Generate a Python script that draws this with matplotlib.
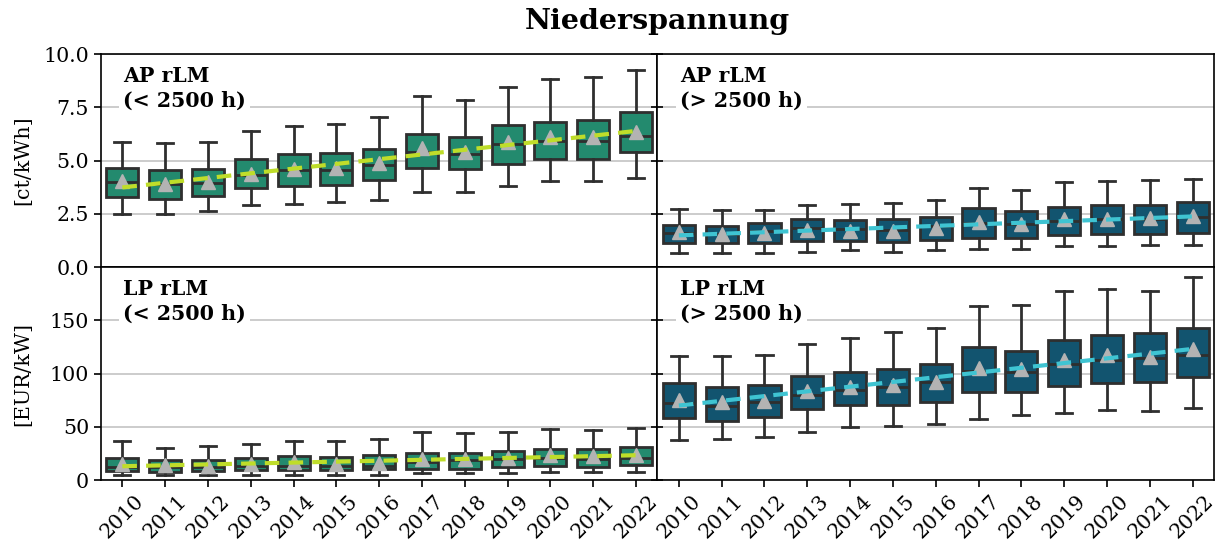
import numpy as np
import matplotlib
matplotlib.use("Agg")
import matplotlib.pyplot as plt

years = ["2010", "2011", "2012", "2013", "2014", "2015", "2016",
         "2017", "2018", "2019", "2020", "2021", "2022"]

# AP rLM (< 2500 h) [ct/kWh]
ap_lo_whislo = [2.47, 2.47, 2.61, 2.90, 2.98, 3.06, 3.17, 3.52, 3.54, 3.82, 4.02, 4.02, 4.19]
ap_lo_q1     = [3.28, 3.20, 3.32, 3.70, 3.79, 3.87, 4.11, 4.67, 4.60, 4.84, 5.08, 5.08, 5.40]
ap_lo_med    = [3.98, 3.90, 3.94, 4.33, 4.57, 4.57, 4.80, 5.42, 5.30, 5.78, 5.92, 5.93, 6.16]
ap_lo_q3     = [4.63, 4.55, 4.61, 5.09, 5.29, 5.34, 5.53, 6.24, 6.12, 6.66, 6.79, 6.89, 7.28]
ap_lo_whishi = [5.88, 5.84, 5.88, 6.38, 6.63, 6.74, 7.05, 8.01, 7.83, 8.45, 8.82, 8.91, 9.25]
ap_lo_mean   = [4.02, 3.91, 4.00, 4.38, 4.61, 4.64, 4.88, 5.57, 5.42, 5.89, 6.12, 6.09, 6.32]

# AP rLM (> 2500 h) [ct/kWh]
ap_hi_whislo = [0.68, 0.67, 0.68, 0.73, 0.81, 0.73, 0.79, 0.84, 0.87, 0.99, 0.99, 1.04, 1.04]
ap_hi_q1     = [1.15, 1.12, 1.13, 1.21, 1.21, 1.20, 1.27, 1.38, 1.38, 1.51, 1.57, 1.57, 1.61]
ap_hi_med    = [1.61, 1.54, 1.68, 1.85, 1.77, 1.74, 1.93, 2.08, 2.00, 2.16, 2.24, 2.24, 2.33]
ap_hi_q3     = [1.96, 1.94, 2.07, 2.28, 2.20, 2.25, 2.36, 2.75, 2.62, 2.81, 2.92, 2.92, 3.04]
ap_hi_whishi = [2.73, 2.69, 2.69, 2.90, 2.97, 3.01, 3.17, 3.71, 3.60, 3.98, 4.02, 4.07, 4.13]
ap_hi_mean   = [1.66, 1.54, 1.61, 1.74, 1.71, 1.69, 1.82, 2.11, 2.03, 2.24, 2.28, 2.31, 2.39]

# LP rLM (< 2500 h) [EUR/kW]
lp_lo_whislo = [4.7, 4.7, 4.7, 4.7, 4.7, 4.7, 4.7, 6.2, 6.2, 6.2, 7.8, 7.8, 7.8]
lp_lo_q1     = [8.4, 7.8, 8.1, 9.3, 9.0, 9.0, 10.2, 10.6, 10.6, 11.8, 12.7, 12.4, 14.0]
lp_lo_med    = [12.4, 11.8, 11.8, 13.0, 13.4, 13.4, 13.0, 17.1, 18.6, 19.6, 20.8, 20.2, 20.8]
lp_lo_q3     = [21.1, 18.6, 18.9, 21.1, 22.4, 22.0, 23.3, 25.8, 25.8, 27.6, 29.5, 29.5, 30.7]
lp_lo_whishi = [36.6, 30.4, 31.7, 34.2, 36.6, 36.6, 38.8, 45.3, 43.8, 45.3, 47.5, 46.6, 48.4]
lp_lo_mean   = [15.5, 14.0, 13.4, 14.9, 16.5, 15.5, 16.1, 20.2, 19.6, 20.8, 23.3, 22.4, 23.3]

# LP rLM (> 2500 h) [EUR/kW]
lp_hi_whislo = [37.9, 38.8, 40.1, 45.3, 49.7, 50.9, 52.2, 57.1, 60.9, 63.4, 65.5, 64.6, 68.0]
lp_hi_q1     = [58.1, 55.6, 59.0, 66.5, 70.5, 70.5, 73.0, 82.3, 82.3, 88.5, 91.0, 91.6, 96.9]
lp_hi_med    = [72.0, 69.9, 73.0, 79.8, 84.8, 87.3, 91.6, 102.5, 101.6, 108.7, 112.4, 114.9, 117.4]
lp_hi_q3     = [91.0, 87.6, 89.1, 97.5, 101.9, 104.7, 109.3, 125.2, 121.1, 131.4, 136.0, 138.2, 143.2]
lp_hi_whishi = [116.5, 116.5, 117.7, 127.3, 133.5, 139.4, 143.2, 163.7, 164.6, 177.3, 179.5, 177.3, 190.4]
lp_hi_mean   = [75.5, 73.6, 74.5, 83.9, 87.0, 89.1, 92.2, 105.6, 104.7, 112.7, 117.1, 115.8, 123.3]

title = "Niederspannung"
ylabels = ["[ct/kWh]", "[EUR/kW]"]
panel_labels = [["AP rLM\n(< 2500 h)", "AP rLM\n(> 2500 h)"],
                ["LP rLM\n(< 2500 h)", "LP rLM\n(> 2500 h)"]]

plt.rcParams["font.family"] = ["DejaVu Serif"]

GREEN = "#238a6e"
BLUE = "#12546f"
TREND_L = "#bfdd2a"
TREND_R = "#3fc4d2"
EDGE = "#2f2f2f"
FS = 14.8

LEFT, RIGHT, TOP, BOTTOM = 0.0824, 0.991, 0.902, 0.1304

fig = plt.figure(figsize=(12.25, 5.52), dpi=100)
gs = fig.add_gridspec(2, 2, left=LEFT, right=RIGHT, top=TOP, bottom=BOTTOM,
                      wspace=0, hspace=0)
axes = [[fig.add_subplot(gs[r, c]) for c in range(2)] for r in range(2)]

datasets = [
    [(ap_lo_whislo, ap_lo_q1, ap_lo_med, ap_lo_q3, ap_lo_whishi, ap_lo_mean),
     (ap_hi_whislo, ap_hi_q1, ap_hi_med, ap_hi_q3, ap_hi_whishi, ap_hi_mean)],
    [(lp_lo_whislo, lp_lo_q1, lp_lo_med, lp_lo_q3, lp_lo_whishi, lp_lo_mean),
     (lp_hi_whislo, lp_hi_q1, lp_hi_med, lp_hi_q3, lp_hi_whishi, lp_hi_mean)],
]

ylims = [(0, 10), (0, 200)]
yticks = [[0.0, 2.5, 5.0, 7.5, 10.0], [0, 50, 100, 150]]
yfmt = ["{:.1f}", "{:.0f}"]

for r in range(2):
    for c in range(2):
        ax = axes[r][c]
        wl, q1, med, q3, wh, mn = datasets[r][c]
        stats = []
        for i in range(len(years)):
            stats.append(dict(whislo=wl[i], q1=q1[i], med=med[i], q3=q3[i],
                              whishi=wh[i], mean=mn[i], fliers=[], label=years[i]))
        color = GREEN if c == 0 else BLUE
        pos = np.arange(len(years))
        ax.bxp(stats, positions=pos, widths=0.75, patch_artist=True,
               showmeans=True, showfliers=False,
               boxprops=dict(facecolor=color, edgecolor=EDGE, linewidth=2),
               medianprops=dict(color=EDGE, linewidth=2),
               whiskerprops=dict(color=EDGE, linewidth=2),
               capprops=dict(color=EDGE, linewidth=2),
               meanprops=dict(marker="^", markerfacecolor="#b3b3b3",
                              markeredgecolor="#b3b3b3", markersize=10),
               zorder=3)
        coef = np.polyfit(pos, np.array(mn), 1)
        ax.plot(pos, np.polyval(coef, pos), linestyle=(0, (3.5, 2.2)),
                color=TREND_L if c == 0 else TREND_R, linewidth=3, zorder=4)
        ax.set_xlim(-0.5, len(years) - 0.5)
        ax.set_ylim(*ylims[r])
        ax.set_yticks(yticks[r])
        ax.yaxis.grid(True, color="#c4c4c4", linewidth=1.2, zorder=0)
        ax.set_axisbelow(True)
        ax.tick_params(axis="both", labelsize=FS, length=5, width=1.2)
        for s in ax.spines.values():
            s.set_linewidth(1.2)
        if c == 0:
            ax.set_yticklabels([yfmt[r].format(v) for v in yticks[r]])
            ax.set_ylabel(ylabels[r], fontsize=FS)
        else:
            ax.set_yticklabels([])
            ax.tick_params(axis="y", direction="inout", length=8)
        ax.set_xticks(pos)
        if r == 1:
            ax.set_xticklabels(years, rotation=45, fontsize=FS)
        else:
            ax.set_xticklabels([])
            ax.tick_params(axis="x", length=0)
        ax.text(0.04, 0.945, panel_labels[r][c], transform=ax.transAxes,
                fontsize=FS, fontweight="bold", va="top", ha="left",
                linespacing=1.3,
                bbox=dict(facecolor="white", edgecolor="none", pad=3), zorder=5)

axes[0][0].yaxis.set_label_coords(-0.124, 0.5)
axes[1][0].yaxis.set_label_coords(-0.124, 0.5)

fig.text((LEFT + RIGHT) / 2, 0.985, title, fontsize=20.5, fontweight="bold",
         ha="center", va="top")

fig.savefig("out.png", dpi=100)
